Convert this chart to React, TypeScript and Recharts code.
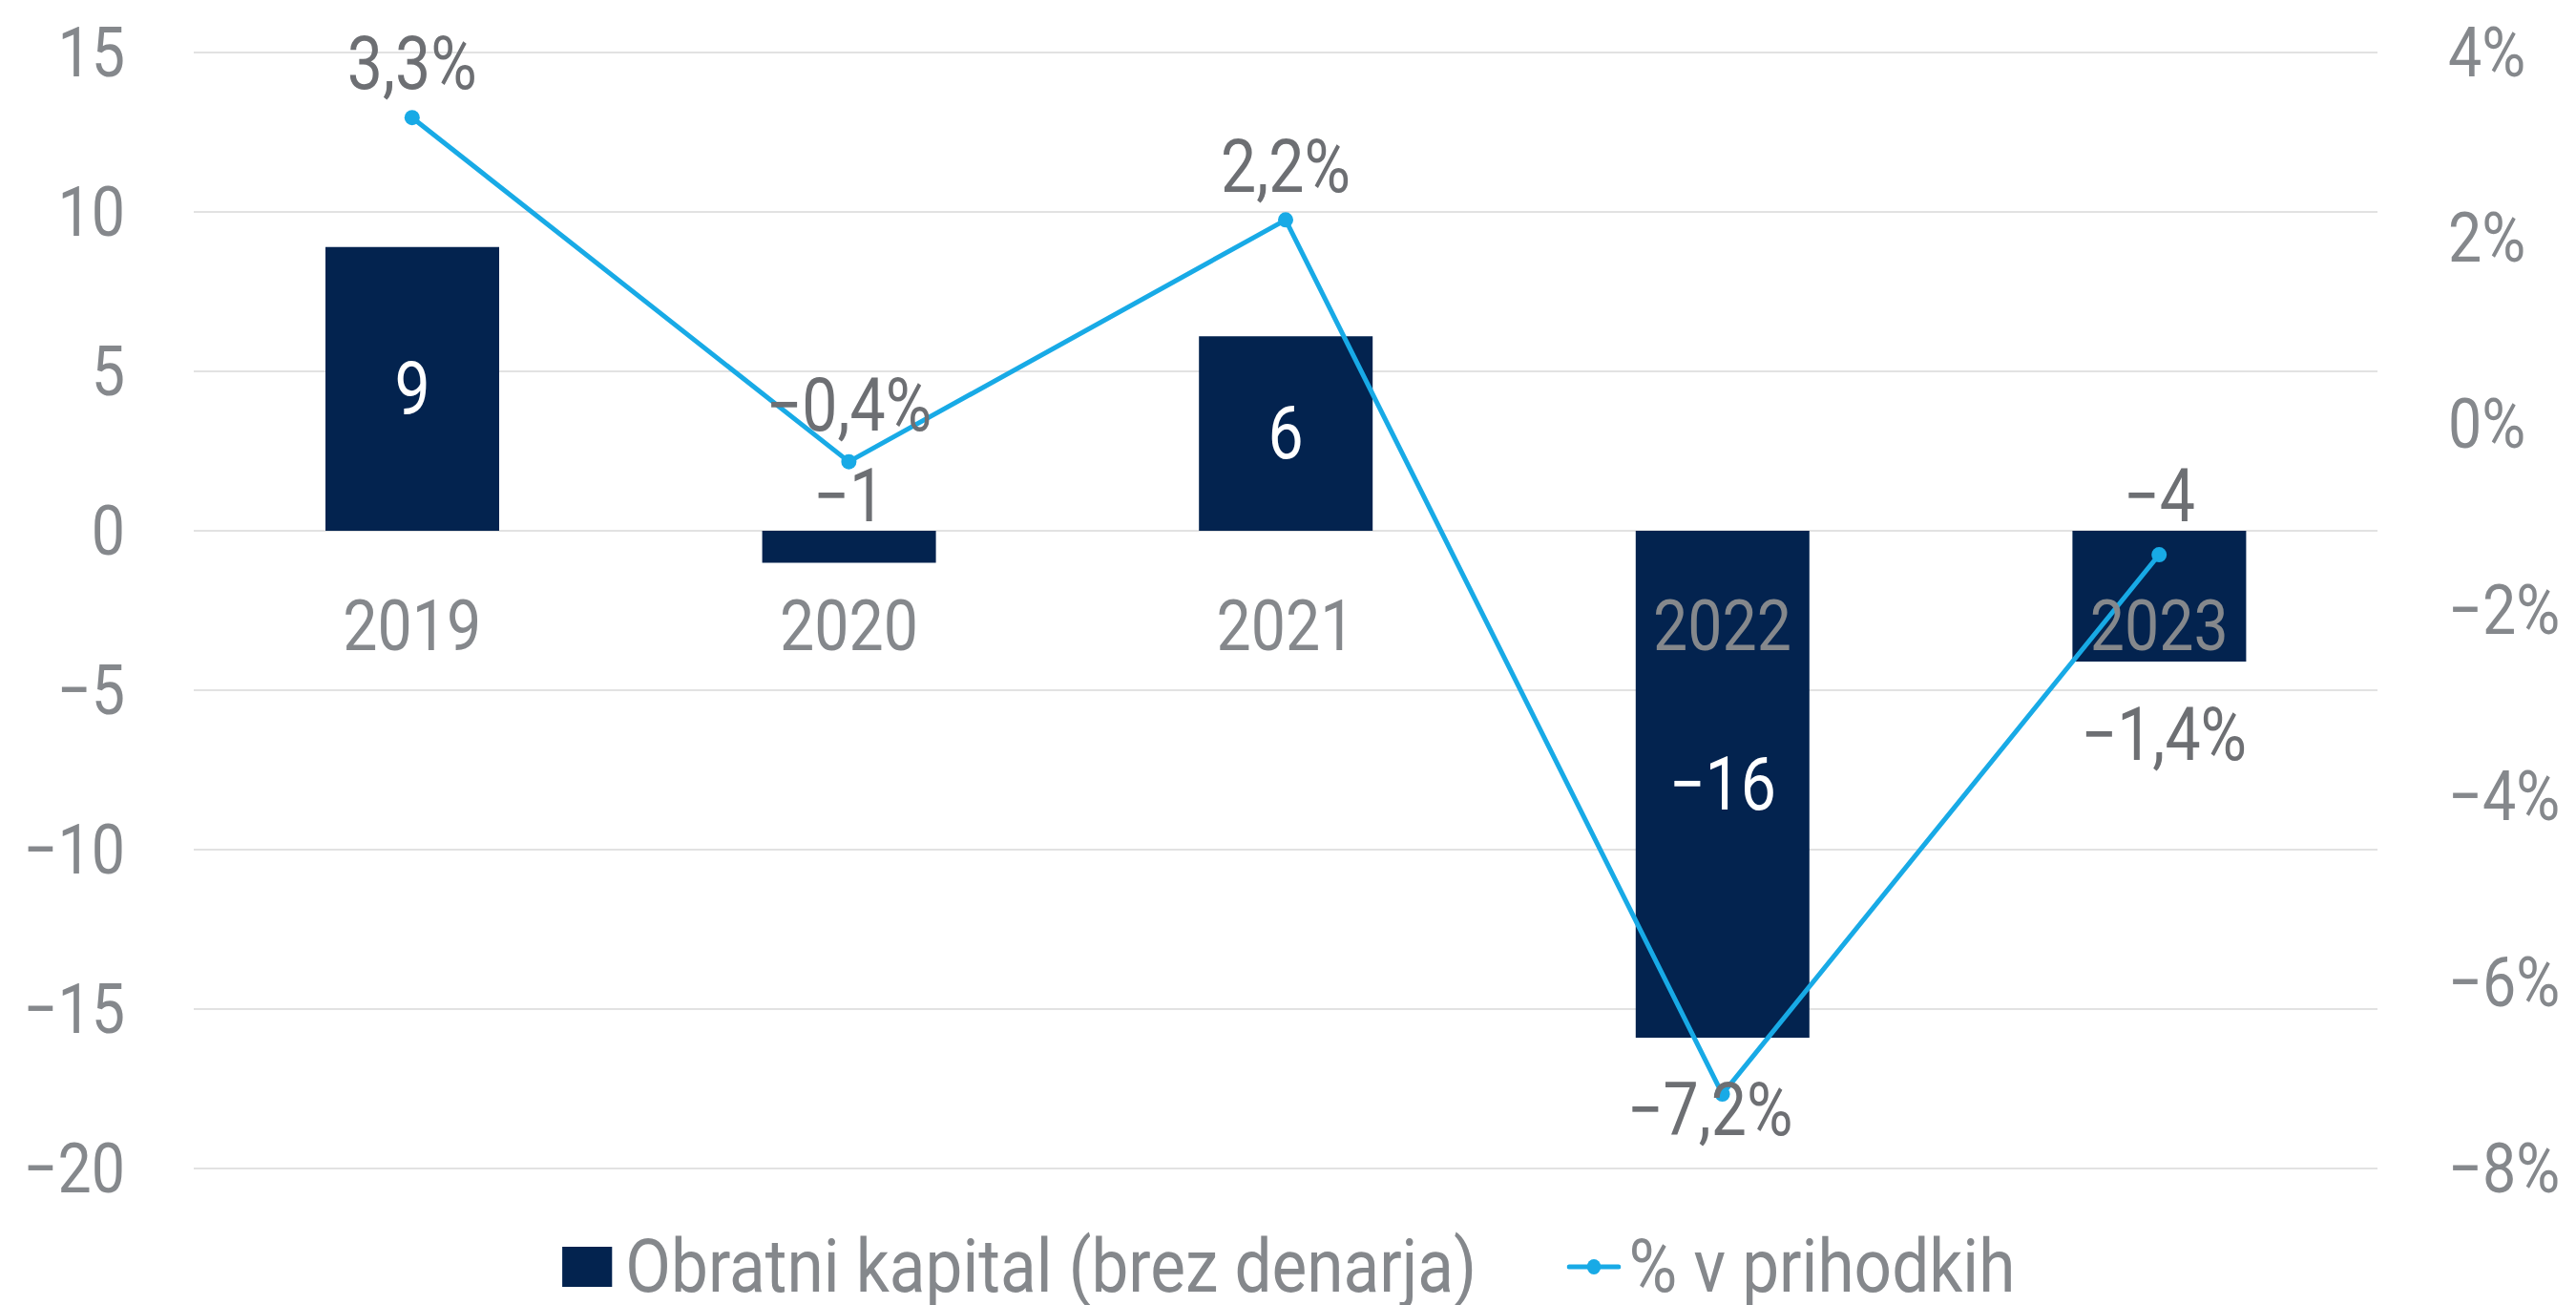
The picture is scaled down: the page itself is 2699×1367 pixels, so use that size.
import { ComposedChart, Bar, Line, XAxis, YAxis, CartesianGrid, LabelList, Legend } from 'recharts'

const years = ['2019', '2020', '2021', '2022', '2023']
const workingCapital = [8.9, -1.0, 6.1, -15.9, -4.1]
const pctOfRevenue = [3.3, -0.4, 2.2, -7.2, -1.4]
const leftTicks = [-20, -15, -10, -5, 0, 5, 10, 15]
const rightTicks = [-8, -6, -4, -2, 0, 2, 4]

const data = years.map((year, i) => ({
  year,
  capital: workingCapital[i],
  pct: pctOfRevenue[i],
}))

const FONT = "Roboto, 'Liberation Sans', sans-serif"
const NAVY = '#03234f'
const BLUE = '#18aae6'
const GREY = '#85888c'
const DARK_GREY = '#6d6f73'
// no condensed font offline, so text is squeezed horizontally
const SX = 0.86
const LEGEND_SX = 0.9

const minus = (s: string) => s.replace('-', '\u2212')
const fmtPct = (v: number) => minus(v.toFixed(1).replace('.', ',')) + '%'
const zeroKey = () => 0

// label offsets, the original has hand placed percentage labels
const pctDx = [0, 0, 0, -13, 5]
const pctDy = [-56, -59, -56, 17, 189]

function box(props: any) {
  const vb = props.viewBox && props.viewBox.x != null ? props.viewBox : props
  return { x: vb.x ?? 0, y: vb.y ?? 0, width: vb.width ?? 0, height: vb.height ?? 0 }
}

function NText({ x, y, fill, size, anchor = 'middle', children }: any) {
  return (
    <text transform={`translate(${x} ${y}) scale(${SX} 1)`} x={0} y={0} fill={fill}
      fontSize={size} fontFamily={FONT} textAnchor={anchor} dominantBaseline="central">
      {children}
    </text>
  )
}

function LeftTick(props: any) {
  return <NText x={props.x} y={props.y} fill={GREY} size={73} anchor="end">{minus(String(props.payload.value))}</NText>
}

function RightTick(props: any) {
  return <NText x={props.x} y={props.y} fill={GREY} size={73} anchor="start">{minus(String(props.payload.value)) + '%'}</NText>
}

function BarValueLabel(props: any) {
  const { x, y, width, height } = box(props)
  const value = Number(props.value)
  const top = Math.min(y, y + height)
  const bottom = Math.max(y, y + height)
  const cx = x + width / 2
  const text = minus(String(Math.round(value)))
  if (Math.abs(value) >= 5) {
    return <NText x={cx} y={(top + bottom) / 2} fill="#ffffff" size={77}>{text}</NText>
  }
  const zeroY = value >= 0 ? bottom : top
  return <NText x={cx} y={zeroY - 36} fill={DARK_GREY} size={77}>{text}</NText>
}

function PctLabel(props: any) {
  const { x, y } = box(props)
  const i = props.index ?? 0
  return (
    <NText x={x + pctDx[i]} y={y + pctDy[i]} fill={DARK_GREY} size={77}>
      {fmtPct(Number(props.value))}
    </NText>
  )
}

function YearLabel(props: any) {
  const { x, y } = box(props)
  return <NText x={x} y={y + 99} fill={GREY} size={75}>{props.value}</NText>
}

function ChartLegend() {
  return (
    <div style={{ height: 143, boxSizing: 'border-box', paddingTop: 63 }}>
      <div style={{
        display: 'flex', justifyContent: 'center', alignItems: 'center', height: 80,
        transform: `scaleX(${LEGEND_SX})`, transformOrigin: '1355px 0',
        fontFamily: FONT, fontSize: 77, color: GREY, whiteSpace: 'nowrap',
      }}>
        <span style={{ display: 'inline-block', width: 58, height: 42, background: NAVY, marginRight: 16 }} />
        <span style={{ lineHeight: '80px' }}>Obratni kapital (brez denarja)</span>
        <svg width={64} height={20} style={{ marginLeft: 104, marginRight: 9 }}>
          <line x1={3} y1={10} x2={61} y2={10} stroke={BLUE} strokeWidth={5} strokeLinecap="round" />
          <circle cx={32} cy={10} r={8} fill={BLUE} />
        </svg>
        <span style={{ lineHeight: '80px' }}>% v prihodkih</span>
      </div>
    </div>
  )
}

export default function App() {
  return (
    <div style={{ position: 'absolute', left: 0, top: 0 }}>
      <ComposedChart width={2699} height={1367} data={data}
        margin={{ top: 55, right: 0, bottom: 0, left: 0 }}>
        <CartesianGrid yAxisId="left" vertical={false} stroke="#e2e2e2" strokeWidth={2} />
        <XAxis dataKey="year" hide />
        <YAxis
          yAxisId="left"
          domain={[-20, 15]}
          ticks={leftTicks}
          interval={0}
          width={203}
          axisLine={false}
          tickLine={false}
          tickSize={0}
          tickMargin={72}
          tick={<LeftTick />}
        />
        <YAxis
          yAxisId="right"
          orientation="right"
          domain={[-8, 4]}
          ticks={rightTicks}
          interval={0}
          width={208}
          axisLine={false}
          tickLine={false}
          tickSize={0}
          tickMargin={74}
          tick={<RightTick />}
        />
        <Legend verticalAlign="bottom" content={() => <ChartLegend />} />
        <Bar yAxisId="left" dataKey="capital" fill={NAVY} barSize={182} isAnimationActive={false}>
          <LabelList dataKey="capital" content={BarValueLabel} />
        </Bar>
        <Line yAxisId="left" dataKey={zeroKey} stroke="none" dot={false} activeDot={false}
          legendType="none" isAnimationActive={false}>
          <LabelList dataKey="year" content={YearLabel} />
        </Line>
        <Line yAxisId="right" dataKey="pct" stroke={BLUE} strokeWidth={5}
          dot={{ r: 8, fill: BLUE, stroke: BLUE, strokeWidth: 0 }} activeDot={false}
          isAnimationActive={false}>
          <LabelList dataKey="pct" content={PctLabel} />
        </Line>
      </ComposedChart>
    </div>
  )
}
